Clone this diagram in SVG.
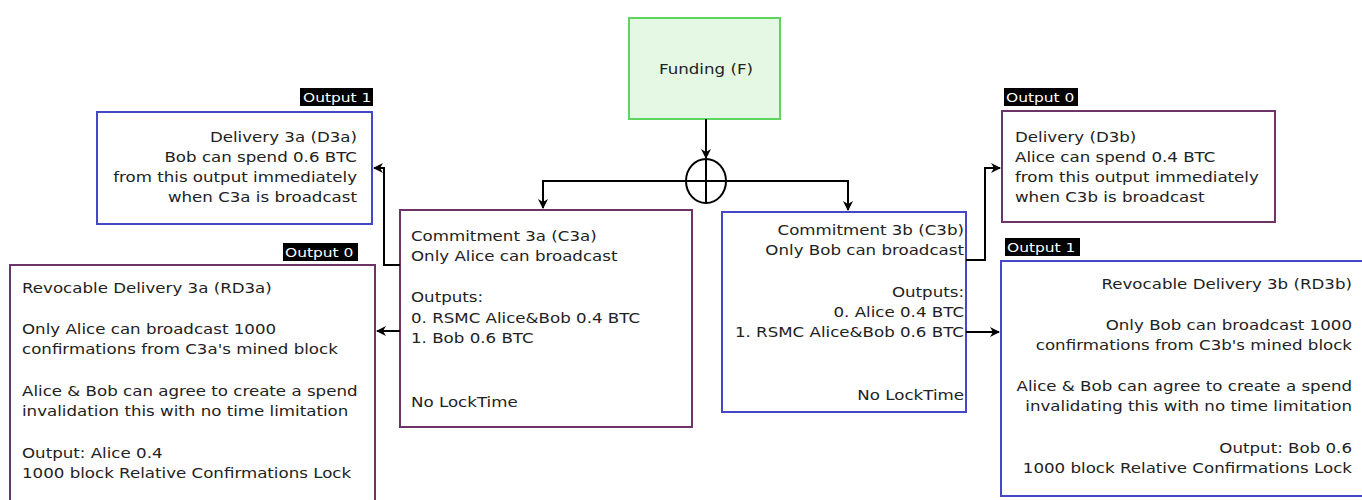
<svg xmlns="http://www.w3.org/2000/svg" width="1362" height="500" viewBox="0 0 1362 500">
  <defs>
    <marker id="arrow" viewBox="0 0 10 10" refX="9" refY="5" markerWidth="10" markerHeight="10" markerUnits="userSpaceOnUse" orient="auto">
      <path d="M0,0 L10,5 L0,10 L3,5 Z" fill="#000"/>
    </marker>
    <style>
      text { font-family: "DejaVu Sans", "Liberation Sans", sans-serif; font-size: 14px; fill: #222; }
      .purple { fill: #fff; stroke: #6e3468; stroke-width: 2; }
      .blue { fill: #fff; stroke: #4646c8; stroke-width: 2; }
      .green { fill: #e4f8e4; stroke: #5cd65c; stroke-width: 2; }
      .tag rect { fill: #000; }
      .tag text { fill: #fff; font-size: 13px; }
      .end { text-anchor: end; }
      .mid { text-anchor: middle; }
      .wire { fill: none; stroke: #000; stroke-width: 2; }
    </style>
  </defs>
  <rect width="1362" height="500" fill="#fff"/>

  <!-- Funding transaction -->
  <g id="funding">
    <rect class="green" x="629" y="18" width="151" height="101"/>
    <g transform="translate(706,0) scale(1.19,1)"><text class="mid" x="0" y="74">Funding (F)</text></g>
  </g>

  <!-- Commitment 3a -->
  <g id="c3a">
    <rect class="purple" x="400" y="210" width="292" height="217"/>
    <g transform="translate(411,0) scale(1.19,1)">
      <text x="0" y="241">Commitment 3a (C3a)</text>
      <text x="0" y="261">Only Alice can broadcast</text>
      <text x="0" y="302">Outputs:</text>
      <text x="0" y="323">0. RSMC Alice&amp;Bob 0.4 BTC</text>
      <text x="0" y="343">1. Bob 0.6 BTC</text>
      <text x="0" y="407">No LockTime</text>
    </g>
  </g>

  <!-- Commitment 3b -->
  <g id="c3b">
    <rect class="blue" x="722" y="212" width="244" height="200"/>
    <g transform="translate(964,0) scale(1.19,1)">
      <text class="end" x="0" y="235">Commitment 3b (C3b)</text>
      <text class="end" x="0" y="255">Only Bob can broadcast</text>
      <text class="end" x="0" y="297">Outputs:</text>
      <text class="end" x="0" y="317">0. Alice 0.4 BTC</text>
      <text class="end" x="0" y="337">1. RSMC Alice&amp;Bob 0.6 BTC</text>
      <text class="end" x="0" y="400">No LockTime</text>
    </g>
  </g>

  <!-- Delivery 3a -->
  <g id="d3a">
    <g class="tag"><rect x="300" y="88" width="73" height="18"/><g transform="translate(303,0) scale(1.19,1)"><text x="0" y="102">Output 1</text></g></g>
    <rect class="blue" x="97" y="112" width="275" height="112"/>
    <g transform="translate(357,0) scale(1.19,1)">
      <text class="end" x="0" y="142">Delivery 3a (D3a)</text>
      <text class="end" x="0" y="162">Bob can spend 0.6 BTC</text>
      <text class="end" x="0" y="182">from this output immediately</text>
      <text class="end" x="0" y="202">when C3a is broadcast</text>
    </g>
  </g>

  <!-- Revocable Delivery 3a -->
  <g id="rd3a">
    <g class="tag"><rect x="283" y="243" width="75" height="18"/><g transform="translate(285,0) scale(1.19,1)"><text x="0" y="257">Output 0</text></g></g>
    <rect class="purple" x="10" y="265" width="365" height="240"/>
    <g transform="translate(22,0) scale(1.19,1)">
      <text x="0" y="293">Revocable Delivery 3a (RD3a)</text>
      <text x="0" y="334">Only Alice can broadcast 1000</text>
      <text x="0" y="354">confirmations from C3a's mined block</text>
      <text x="0" y="396">Alice &amp; Bob can agree to create a spend</text>
      <text x="0" y="416">invalidation this with no time limitation</text>
      <text x="0" y="458">Output: Alice 0.4</text>
      <text x="0" y="478">1000 block Relative Confirmations Lock</text>
    </g>
  </g>

  <!-- Delivery 3b -->
  <g id="d3b">
    <g class="tag"><rect x="1004" y="88" width="74" height="18"/><g transform="translate(1006,0) scale(1.19,1)"><text x="0" y="102">Output 0</text></g></g>
    <rect class="purple" x="1002" y="111" width="273" height="111"/>
    <g transform="translate(1015,0) scale(1.19,1)">
      <text x="0" y="142">Delivery (D3b)</text>
      <text x="0" y="162">Alice can spend 0.4 BTC</text>
      <text x="0" y="182">from this output immediately</text>
      <text x="0" y="202">when C3b is broadcast</text>
    </g>
  </g>

  <!-- Revocable Delivery 3b -->
  <g id="rd3b">
    <g class="tag"><rect x="1005" y="238" width="75" height="18"/><g transform="translate(1007,0) scale(1.19,1)"><text x="0" y="252">Output 1</text></g></g>
    <rect class="blue" x="1001" y="261" width="370" height="235"/>
    <g transform="translate(1352,0) scale(1.19,1)">
      <text class="end" x="0" y="289">Revocable Delivery 3b (RD3b)</text>
      <text class="end" x="0" y="330">Only Bob can broadcast 1000</text>
      <text class="end" x="0" y="350">confirmations from C3b's mined block</text>
      <text class="end" x="0" y="391">Alice &amp; Bob can agree to create a spend</text>
      <text class="end" x="0" y="411">invalidating this with no time limitation</text>
      <text class="end" x="0" y="453">Output: Bob 0.6</text>
      <text class="end" x="0" y="473">1000 block Relative Confirmations Lock</text>
    </g>
  </g>

  <!-- Connectors -->
  <g id="connectors">
    <path class="wire" d="M706,119 V158" marker-end="url(#arrow)"/>
    <ellipse class="wire" cx="706" cy="181" rx="20" ry="22"/>
    <path class="wire" d="M706,159 V203"/>
    <path class="wire" d="M706,181 H543 V208" marker-end="url(#arrow)"/>
    <path class="wire" d="M706,181 H848 V210" marker-end="url(#arrow)"/>
    <path class="wire" d="M400,265 H384 V168 H374" marker-end="url(#arrow)"/>
    <path class="wire" d="M400,331 H377" marker-end="url(#arrow)"/>
    <path class="wire" d="M966,260 H985 V168 H1000" marker-end="url(#arrow)"/>
    <path class="wire" d="M966,332 H999" marker-end="url(#arrow)"/>
  </g>
</svg>
